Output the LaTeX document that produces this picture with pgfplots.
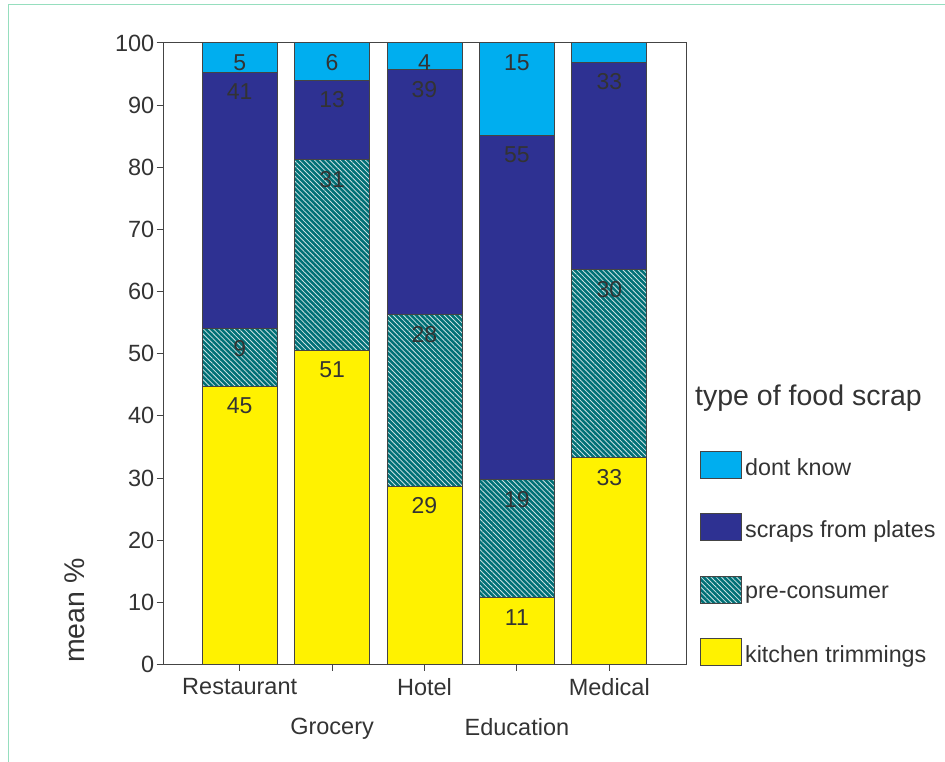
\documentclass[border=0pt]{standalone}
\usepackage{fontspec}
\setmainfont{Liberation Sans}
\usepackage{pgfplots}
\pgfplotsset{compat=1.18}
\usepackage{pgfplotstable}
\usetikzlibrary{patterns.meta}

\definecolor{dontknow}{RGB}{0,174,239}
\definecolor{scraps}{RGB}{46,49,146}
\definecolor{precons}{RGB}{0,112,118}
\definecolor{kitchen}{RGB}{255,242,0}
\definecolor{edgegray}{RGB}{68,68,68}
\definecolor{txtgray}{RGB}{51,51,51}
\definecolor{framegreen}{RGB}{150,222,190}

% mean share (%) of each food scrap type per sector
\pgfplotstableread{
x kitchen pre scraps dontknow
0 44.8 9.2 41.3 4.7
1 50.6 30.6 12.8 6.0
2 28.7 27.6 39.4 4.3
3 10.7 19.0 55.4 14.9
4 33.3 30.2 33.4 3.1
}\foodscrap

\pgfplotsset{
  swatch/.style={legend image code/.code={%
    \draw[##1, draw=edgegray, line width=0.8pt] (0pt,-10.5pt) rectangle (41pt,16.5pt);}},
  % segment value, used to lift its label to just below the segment top
  segment/.style={visualization depends on={\thisrow{#1} \as \seg}},
}

\begin{document}
\begin{tikzpicture}
\useasboundingbox (0pt,0pt) rectangle (945pt,762pt);
\draw[framegreen, line width=1.3pt] (8.2pt,0pt) -- (8.2pt,757.4pt) -- (945pt,757.4pt);
\begin{axis}[
  at={(163pt,97.5pt)}, anchor=south west,
  scale only axis, width=523pt, height=621.5pt,
  clip=false,
  ybar stacked, bar width=75pt,
  xmin=-0.83, xmax=4.83, ymin=0, ymax=100,
  xtick={0,2,4}, xticklabels={Restaurant,Hotel,Medical},
  extra x ticks={1,3}, extra x tick labels={Grocery,Education},
  extra x tick style={xticklabel style={yshift=-40pt}},
  ytick={0,10,...,100},
  tick pos=left, tick align=outside, major tick length=6.5pt,
  tick style={edgegray, line width=1pt},
  axis line style={edgegray, line width=1pt},
  /pgf/number format/assume math mode=true,
  ticklabel style={font=\fontsize{23.5}{27}\selectfont, text=txtgray},
  xticklabel style={inner sep=2pt, yshift=-5pt},
  yticklabel style={inner sep=2pt},
  point meta=rawy,
  nodes near coords={\pgfmathparse{\seg>3.5 ? 1 : 0}\ifnum\pgfmathresult=1 \pgfmathprintnumber[fixed,precision=0]{\pgfplotspointmeta}\fi},
  every node near coord/.append style={anchor=north, yshift={3.1075*\seg-11}, inner sep=0pt,
    font=\fontsize{23}{26}\selectfont, text=txtgray},
  legend style={at={(axis description cs:1.027,-0.0024)}, anchor=south west,
    draw=none, fill=none, inner sep=0pt, row sep=34.5pt, column sep=3pt,
    font=\fontsize{23.3}{26}\selectfont, text=txtgray, nodes={inner sep=0pt}},
  legend cell align=left,
  reverse legend,
]
\addplot+[swatch, segment=kitchen, fill=kitchen, draw=edgegray, line width=1pt]
  table[x=x, y=kitchen] {\foodscrap};
\addplot+[swatch, segment=pre, fill=precons, draw=edgegray, line width=1pt,
  postaction={pattern={Lines[angle=-45, distance=3.6pt, line width=0.8pt]}, pattern color=white!80!precons}]
  table[x=x, y=pre] {\foodscrap};
\addplot+[swatch, segment=scraps, fill=scraps, draw=edgegray, line width=1pt]
  table[x=x, y=scraps] {\foodscrap};
\addplot+[swatch, segment=dontknow, fill=dontknow, draw=edgegray, line width=1pt]
  table[x=x, y=dontknow] {\foodscrap};
\legend{kitchen trimmings, pre-consumer, scraps from plates, dont know}

\node[anchor=base west, inner sep=0pt, font=\fontsize{28.5}{32}\selectfont, text=txtgray]
  at (axis description cs:1.0172,0.4175) {type of food scrap};
\node[rotate=90, anchor=base west, inner sep=0pt, font=\fontsize{28.5}{32}\selectfont, text=txtgray]
  at (axis description cs:-0.151,0.0024) {mean \%};
\end{axis}
\end{tikzpicture}
\end{document}
